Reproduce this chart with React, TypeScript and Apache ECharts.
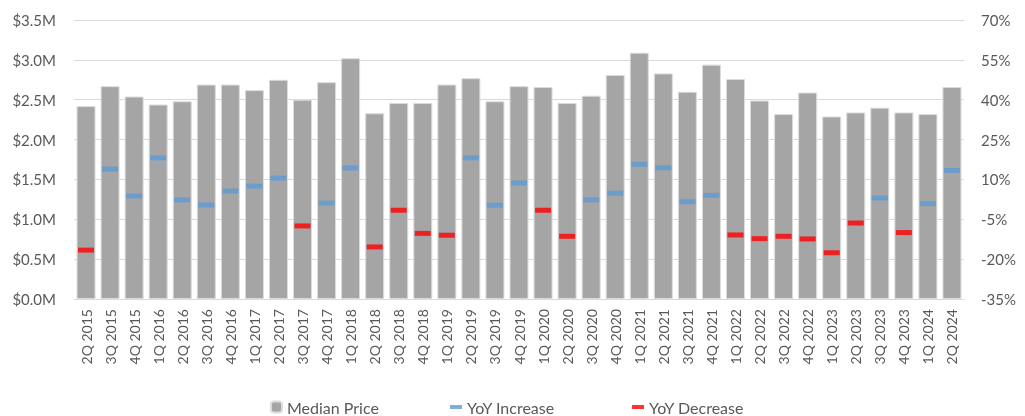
import React, { useEffect, useRef } from "react";
import * as echarts from "echarts";

const categories = [
  "2Q 2015", "3Q 2015", "4Q 2015", "1Q 2016", "2Q 2016", "3Q 2016", "4Q 2016",
  "1Q 2017", "2Q 2017", "3Q 2017", "4Q 2017", "1Q 2018", "2Q 2018", "3Q 2018",
  "4Q 2018", "1Q 2019", "2Q 2019", "3Q 2019", "4Q 2019", "1Q 2020", "2Q 2020",
  "3Q 2020", "4Q 2020", "1Q 2021", "2Q 2021", "3Q 2021", "4Q 2021", "1Q 2022",
  "2Q 2022", "3Q 2022", "4Q 2022", "1Q 2023", "2Q 2023", "3Q 2023", "4Q 2023",
  "1Q 2024", "2Q 2024",
];

// Median price in $M
const medianPrice = [
  2.42, 2.67, 2.54, 2.44, 2.48, 2.69, 2.69, 2.62, 2.75, 2.5, 2.72, 3.02, 2.33,
  2.46, 2.46, 2.69, 2.77, 2.48, 2.67, 2.66, 2.46, 2.55, 2.81, 3.09, 2.83, 2.6,
  2.94, 2.76, 2.49, 2.32, 2.59, 2.29, 2.34, 2.4, 2.34, 2.32, 2.66,
];

// Year-over-year change in %
const yoyChange = [
  -16.6, 13.9, 3.8, 18.1, 2.3, 0.4, 5.6, 7.5, 10.5, -7.5, 1.1, 14.3, -15.4,
  -1.6, -10.3, -11.0, 18.1, 0.3, 8.7, -1.6, -11.4, 2.3, 4.8, 15.7, 14.4, 1.6,
  4.0, -10.9, -12.3, -11.4, -12.4, -17.6, -6.4, 3.0, -10.0, 0.9, 13.4,
];

const leftTicks = { min: 0, max: 3.5, interval: 0.5 };
const rightTicks = { min: -35, max: 70, step: 15 };

const FONT = "Lato";
const TXT = "#595959";

export default function App() {
  const ref = useRef<HTMLDivElement>(null);
  useEffect(() => {
    if (!ref.current) return;
    const chart = echarts.init(ref.current, undefined, { renderer: "svg" });
    const nSteps = (rightTicks.max - rightTicks.min) / rightTicks.step;
    const toStep = (v: number) => (v - rightTicks.min) / rightTicks.step;
    const inc = yoyChange.map((v) => (v >= 0 ? toStep(v) : "-"));
    const dec = yoyChange.map((v) => (v < 0 ? toStep(v) : "-"));
    const legendText = { fontFamily: FONT, fontSize: 16, color: TXT, lineHeight: 16 };
    chart.setOption({
      animation: false,
      textStyle: { fontFamily: FONT },
      grid: { left: 74, right: 61, top: 20, bottom: 117 },
      legend: [
        {
          data: ["Median Price"], left: 270, top: 399, padding: 0,
          itemWidth: 11, itemHeight: 11, textStyle: legendText,
        },
        {
          data: ["YoY Increase"], left: 450, top: 399, padding: 0,
          itemWidth: 12, itemHeight: 4, textStyle: legendText,
        },
        {
          data: ["YoY Decrease"], left: 632, top: 399, padding: 0,
          itemWidth: 12, itemHeight: 4, textStyle: legendText,
        },
      ],
      xAxis: {
        type: "category",
        data: categories,
        axisTick: { show: false },
        axisLine: { lineStyle: { color: "#d9d9d9", width: 1 } },
        axisLabel: {
          rotate: 90, interval: 0, margin: 10, fontSize: 14, color: TXT, fontFamily: FONT,
        },
      },
      yAxis: [
        {
          type: "value",
          min: leftTicks.min, max: leftTicks.max, interval: leftTicks.interval,
          axisLabel: {
            formatter: (v: number) => `$${v.toFixed(1)}M`,
            fontSize: 15, color: TXT, margin: 18, fontFamily: FONT,
          },
          splitLine: { lineStyle: { color: "#d9d9d9", width: 1 } },
          axisLine: { show: false }, axisTick: { show: false },
        },
        {
          type: "value",
          min: 0, max: nSteps, interval: 1,
          axisLabel: {
            formatter: (v: number) => `${Math.round(rightTicks.min + v * rightTicks.step)}%`,
            fontSize: 15, color: TXT, margin: 17, fontFamily: FONT,
          },
          splitLine: { show: false },
          axisLine: { show: false }, axisTick: { show: false },
        },
      ],
      series: [
        {
          name: "Median Price",
          type: "bar",
          data: medianPrice,
          barCategoryGap: "21%",
          itemStyle: { color: "#a5a5a5", borderColor: "#dcdcdc", borderWidth: 1 },
        },
        {
          name: "YoY Increase",
          type: "scatter",
          yAxisIndex: 1,
          data: inc,
          symbol: "rect",
          symbolSize: [16, 5],
          itemStyle: { color: "#5b9bd5" },
        },
        {
          name: "YoY Decrease",
          type: "scatter",
          yAxisIndex: 1,
          data: dec,
          symbol: "rect",
          symbolSize: [16, 5],
          itemStyle: { color: "#ff0000" },
        },
      ],
    });
    return () => chart.dispose();
  }, []);
  return (
    <div
      ref={ref}
      style={{ position: "fixed", left: 0, top: 0, width: 1025, height: 416 }}
    />
  );
}
